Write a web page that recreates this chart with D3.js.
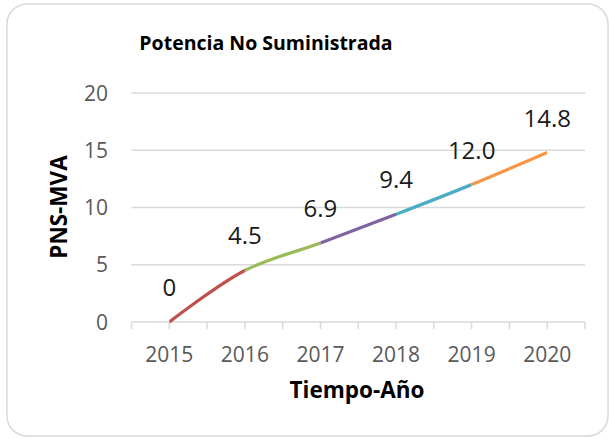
<!DOCTYPE html>
<html>
<head>
<meta charset="utf-8">
<script src="https://cdn.jsdelivr.net/npm/d3@7"></script>
<style>
  html, body { margin: 0; padding: 0; background: #fff; }
  svg { display: block; }
</style>
</head>
<body>
<svg id="chart" width="609" height="439"></svg>
<script>
// chart data
var years = ["2015", "2016", "2017", "2018", "2019", "2020"];
var pns = [0, 4.5, 6.9, 9.4, 12.0, 14.8];
var pnsLabels = ["0", "4.5", "6.9", "9.4", "12.0", "14.8"];
var segColors = ["#c0504d", "#9bbb59", "#8064a2", "#4bacc6", "#f79646"];
var yTicks = [0, 5, 10, 15, 20];

var svg = d3.select("#chart");
var font = "'Open Sans', sans-serif";

// frame
svg.append("rect").attr("x", 7).attr("y", 4).attr("width", 601).attr("height", 432)
	.attr("rx", 20).attr("ry", 20)
	.attr("fill", "#fff").attr("stroke", "#d9d9d9").attr("stroke-width", 1.5);

var plot = {left: 131.5, right: 585, top: 93, bottom: 322};

var x = d3.scaleBand().domain(years).range([plot.left, plot.right]);
var y = d3.scaleLinear().domain([0, 20]).range([plot.bottom, plot.top]);
function cx(d){ return x(d) + x.bandwidth() / 2; }

// gridlines
svg.append("g").selectAll("line").data(yTicks.filter(function(d){ return d > 0; }))
	.enter().append("line")
	.attr("x1", plot.left).attr("x2", plot.right)
	.attr("y1", function(d){ return y(d); }).attr("y2", function(d){ return y(d); })
	.attr("stroke", "#d9d9d9").attr("stroke-width", 1.5);

// y labels
svg.append("g").selectAll("text").data(yTicks).enter().append("text")
	.attr("x", 108).attr("y", function(d){ return y(d) + 7.5; })
	.attr("text-anchor", "end")
	.attr("font-family", font).attr("font-size", 21).attr("fill", "#595959")
	.text(function(d){ return d; });

// x axis line + ticks
var xa = svg.append("g");
xa.append("line").attr("x1", plot.left).attr("x2", plot.right)
	.attr("y1", plot.bottom).attr("y2", plot.bottom)
	.attr("stroke", "#d9d9d9").attr("stroke-width", 1.5);
var tickPos = [];
years.forEach(function(d){ tickPos.push(x(d)); tickPos.push(cx(d)); });
tickPos.push(plot.right);
xa.selectAll("line.tk").data(tickPos).enter().append("line").attr("class", "tk")
	.attr("x1", function(d){ return d; }).attr("x2", function(d){ return d; })
	.attr("y1", plot.bottom).attr("y2", plot.bottom + 7)
	.attr("stroke", "#d9d9d9").attr("stroke-width", 1.5);
xa.selectAll("text").data(years).enter().append("text")
	.attr("x", function(d){ return cx(d); }).attr("y", 362)
	.attr("text-anchor", "middle")
	.attr("font-family", font).attr("font-size", 21).attr("fill", "#595959")
	.text(function(d){ return d; });

// line, one clipped copy per colour
var pts = years.map(function(d, i){ return [cx(d), y(pns[i])]; });
var line = d3.line().curve(d3.curveCatmullRom.alpha(0.5));
var defs = svg.append("defs");
segColors.forEach(function(c, i){
	defs.append("clipPath").attr("id", "seg" + i).append("rect")
		.attr("x", pts[i][0]).attr("y", 0)
		.attr("width", pts[i + 1][0] - pts[i][0]).attr("height", 439);
	svg.append("path").attr("d", line(pts)).attr("clip-path", "url(#seg" + i + ")")
		.attr("fill", "none").attr("stroke", c).attr("stroke-width", 3.2)
		.attr("stroke-linecap", "butt");
});

// data labels
svg.append("g").selectAll("text").data(pnsLabels).enter().append("text")
	.attr("x", function(d, i){ return cx(years[i]); })
	.attr("y", function(d, i){ return y(pns[i]) - 26; })
	.attr("text-anchor", "middle")
	.attr("font-family", font).attr("font-size", 24).attr("fill", "#1a1a1a")
	.text(function(d){ return d; });

// titles
svg.append("text").attr("x", 266).attr("y", 50).attr("text-anchor", "middle")
	.attr("font-family", font).attr("font-weight", "bold").attr("font-size", 19.5)
	.attr("fill", "#000").text("Potencia No Suministrada");
svg.append("text").attr("x", 357).attr("y", 398).attr("text-anchor", "middle")
	.attr("font-family", font).attr("font-weight", "bold").attr("font-size", 22.5)
	.attr("fill", "#000").text("Tiempo-Año");
svg.append("text").attr("transform", "translate(67,207) rotate(-90)")
	.attr("text-anchor", "middle")
	.attr("font-family", font).attr("font-weight", "bold").attr("font-size", 22.5)
	.attr("fill", "#000").text("PNS-MVA");
</script>
</body>
</html>
